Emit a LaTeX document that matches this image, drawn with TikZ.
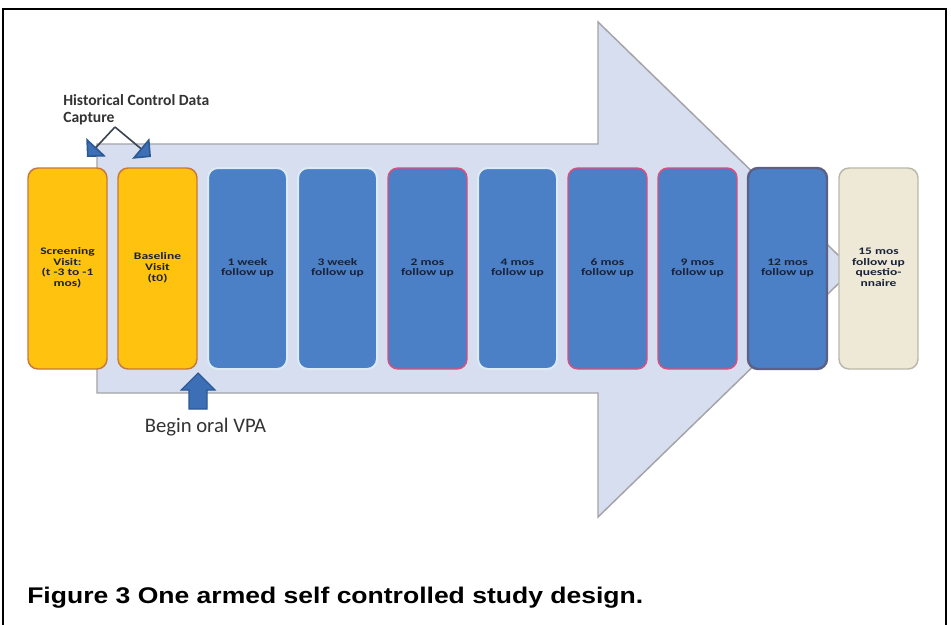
\documentclass[tikz,border=0pt]{standalone}
\usepackage{fontspec}
\usepackage{graphicx}
\setmainfont{Carlito}
\newfontfamily\capfont{Liberation Sans}
\usetikzlibrary{arrows.meta}
\definecolor{arrowfill}{HTML}{D6DEEF}
\definecolor{arrowedge}{HTML}{A4A4A8}
\definecolor{vorange}{HTML}{FFC20E}
\definecolor{vorangeedge}{HTML}{C8793A}
\definecolor{vblue}{HTML}{4B7FC6}
\definecolor{vbluelight}{HTML}{DDEBF6}
\definecolor{vpink}{HTML}{D9507E}
\definecolor{vdark}{HTML}{5E5F86}
\definecolor{vbeige}{HTML}{EDE9D6}
\definecolor{vbeigeedge}{HTML}{B9B8AA}
\definecolor{boxtext}{HTML}{1A2238}
\definecolor{calloutline}{HTML}{3A4450}
\definecolor{calloutblue}{HTML}{3C6FB5}
\definecolor{calloutbluedark}{HTML}{2C5894}
\definecolor{labelgray}{HTML}{333333}
\newcommand{\bt}[1]{\scalebox{1.35}[1]{\begin{tabular}{@{}c@{}}#1\end{tabular}}}
\begin{document}
\begin{tikzpicture}[x=0.75pt,y=-0.75pt,
  frame/.style={draw=black, line width=1.5pt},
  bigarrow/.style={fill=arrowfill, draw=arrowedge, line width=1.1pt, line join=miter},
  visitbox/.style={rounded corners=7.5pt, minimum width=59.25pt, minimum height=150.75pt,
     inner sep=0pt, line width=1.1pt, text=boxtext,
     font=\bfseries\fontsize{7.5}{8}\selectfont},
  orangebox/.style={visitbox, fill=vorange, draw=vorangeedge},
  lightbluebox/.style={visitbox, fill=vblue, draw=vbluelight, line width=1.5pt},
  pinkbluebox/.style={visitbox, fill=vblue, draw=vpink},
  darkbluebox/.style={visitbox, fill=vblue, draw=vdark, line width=1.8pt},
  beigebox/.style={visitbox, fill=vbeige, draw=vbeigeedge},
  callout/.style={draw=calloutline, line width=1.2pt,
     -{Triangle[length=10pt,width=20pt,fill=calloutblue,color=calloutbluedark]}},
  blockarrow/.style={fill=calloutblue, draw=calloutbluedark, line width=0.8pt}
]
\useasboundingbox (0,0) rectangle (951,625);
\fill[white] (0,0) rectangle (951,625);
\draw[frame] (3,625) -- (3,9) -- (946,9) -- (946,625);

% big background arrow
\draw[bigarrow] (97,144) -- (598,144) -- (598,22) -- (853,269.5) -- (598,517) -- (598,393) -- (97,393) -- cycle;

% visit boxes
\node[orangebox]   (b0) at (67.5,268.5)  {\bt{Screening\\Visit:\\(t -3 to -1\\mos)}};
\node[orangebox]   (b1) at (157.5,268.5) {\bt{Baseline\\Visit\\(t0)}};
\node[lightbluebox](b2) at (247.5,268.5) {\bt{1 week\\follow up}};
\node[lightbluebox](b3) at (337.5,268.5) {\bt{3 week\\follow up}};
\node[pinkbluebox] (b4) at (427.5,268.5) {\bt{2 mos\\follow up}};
\node[lightbluebox](b5) at (517.5,268.5) {\bt{4 mos\\follow up}};
\node[pinkbluebox] (b6) at (607.5,268.5) {\bt{6 mos\\follow up}};
\node[pinkbluebox] (b7) at (697.5,268.5) {\bt{9 mos\\follow up}};
\node[darkbluebox] (b8) at (787.5,268.5) {\bt{12 mos\\follow up}};
\node[beigebox]    (b9) at (878.5,268.5) {\bt{15 mos\\follow up\\questio-\\nnaire}};

% historical control data capture callout
\node[anchor=base west, inner sep=0pt, text=labelgray, font=\bfseries\fontsize{11.7}{12.75}\selectfont]
  (hist) at (63,105) {\begin{tabular}[t]{@{}l@{}}Historical Control Data\\Capture\end{tabular}};
\coordinate (apex) at (115,127);
\coordinate (hleft) at (87,157);
\coordinate (hright) at (151,157);
\draw[callout] (apex) -- (hleft);
\draw[callout] (apex) -- (hright);

% begin oral VPA block arrow
\draw[blockarrow] (198,373) -- (215,390) -- (207,390) -- (207,409) -- (189,409) -- (189,390) -- (181,390) -- cycle;
\node[anchor=base, inner sep=0pt, text=labelgray, font=\fontsize{15.5}{18}\selectfont] (vpa) at (205.5,432) {Begin oral VPA};

% caption
\node[anchor=base west, inner sep=0pt, font=\capfont\bfseries\fontsize{17}{20}\selectfont] (cap) at (27,603)
  {\scalebox{1.17}[1]{Figure 3 One armed self controlled study design.}};
\end{tikzpicture}
\end{document}
